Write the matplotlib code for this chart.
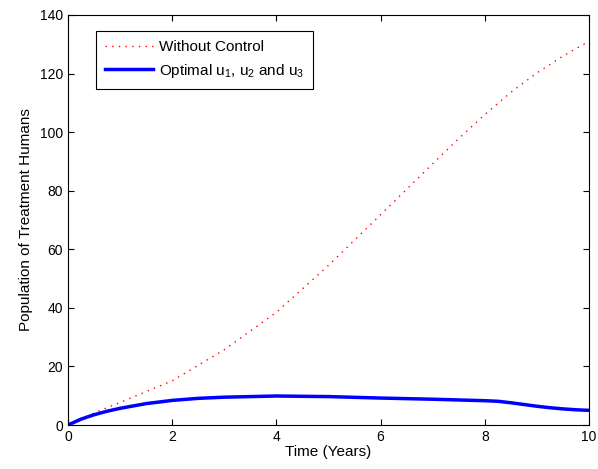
import matplotlib
matplotlib.use("Agg")
import matplotlib.pyplot as plt

plt.rcParams["font.family"] = ["Liberation Sans", "DejaVu Sans"]
plt.rcParams["mathtext.fontset"] = "custom"
plt.rcParams["mathtext.rm"] = "Liberation Sans"
plt.rcParams["mathtext.it"] = "Liberation Sans"

# values
t_no_control = [0, 0.5, 1, 2, 3, 4, 5, 6, 7, 7.5, 8, 8.5, 9, 9.5, 10]
pop_no_control = [0, 4.1, 7.7, 15.1, 25.7, 38.5, 54.5, 71.8, 89.2, 97.8, 106.0, 113.6,
                  120.2, 126.0, 131.0]

t_optimal = [0, 0.25, 0.5, 0.75, 1, 1.5, 2, 2.5, 3, 4, 5, 6, 7, 8, 8.25, 8.5, 8.75,
             9, 9.25, 9.5, 9.75, 10]
pop_optimal = [0, 2.0, 3.5, 4.7, 5.7, 7.3, 8.4, 9.1, 9.5, 9.9, 9.7, 9.2, 8.8, 8.3, 8.1,
               7.6, 7.0, 6.4, 5.9, 5.5, 5.2, 5.0]

fig = plt.figure(figsize=(5.98, 4.69), dpi=100)
ax = fig.add_axes([68 / 598, 44 / 469, 521 / 598, 410 / 469])

ax.plot(t_no_control, pop_no_control, color="red", lw=1.0, linestyle=(0, (1, 3.8)),
        label="Without Control")
ax.plot(t_optimal, pop_optimal, color="blue", lw=2.5, label="Optimal u$_1$, u$_2$ and u$_3$")

ax.set_xlim(0, 10)
ax.set_ylim(0, 140)
ax.set_xticks(range(0, 11, 2))
ax.set_yticks(range(0, 141, 20))
ax.tick_params(direction="in", top=True, right=True, length=4, labelsize=10, width=0.8)
for s in ax.spines.values():
    s.set_linewidth(0.8)

ax.set_xlabel("Time (Years)", fontsize=11, labelpad=1)
ax.set_ylabel("Population of Treatment Humans", fontsize=11, labelpad=5)

leg = ax.legend(loc="upper left", bbox_to_anchor=(0.054, 0.961), borderaxespad=0,
                fontsize=11, fancybox=False, edgecolor="black", framealpha=1,
                handlelength=3.1, handletextpad=0.4, borderpad=0.6, labelspacing=0.5)
leg.get_frame().set_linewidth(0.8)

fig.savefig("out.png", dpi=100)
